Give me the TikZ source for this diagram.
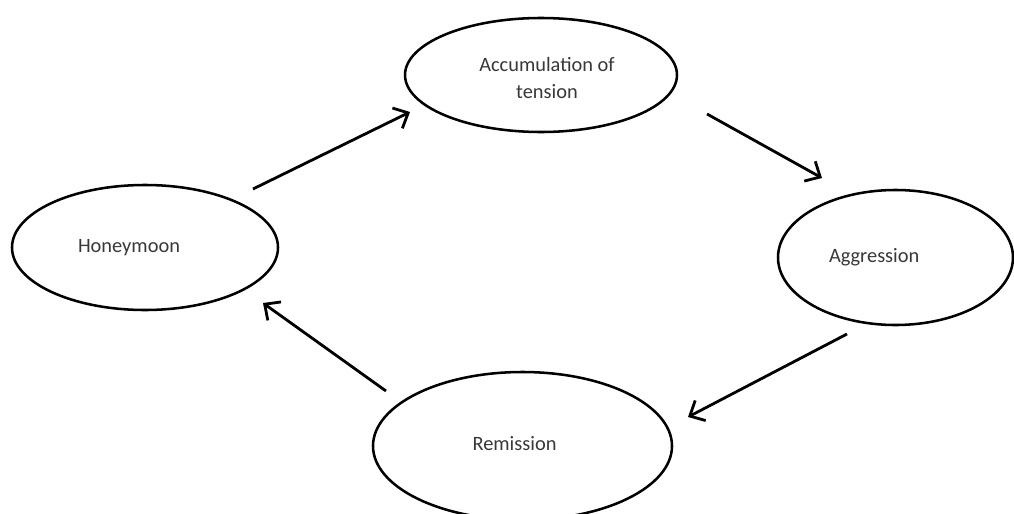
\documentclass[tikz,border=0pt]{standalone}
\usepackage{fontspec}
\setmainfont{Carlito}
\usetikzlibrary{shapes.geometric,arrows.meta,calc}
\definecolor{txt}{HTML}{383838}
\begin{document}
\begin{tikzpicture}[x=0.75pt,y=-0.75pt,
  stage/.style={ellipse,draw=black,line width=1.9pt,inner sep=0pt,fill=white},
  lbl/.style={font=\fontsize{15.3pt}{20.25pt}\selectfont,text=txt,align=center,inner sep=0pt},
  flow/.style={line width=2.1pt,-{Straight Barb[length=9pt,width=17pt,line width=2.1pt]}}]
\useasboundingbox[fill=white] (0,0) rectangle (1014,514);
\begin{scope}
\clip (0,0) rectangle (1014,514);
\node[stage,minimum width=199.5pt,minimum height=93.75pt,
  label={[lbl,xshift=-12pt]center:Honeymoon}] (hon) at (145,247.5) {};
\node[stage,minimum width=204pt,minimum height=85.5pt,
  label={[lbl,xshift=4.5pt,yshift=-2.6pt]center:Accumulation of\\tension}] (acc) at (541,75) {};
\node[stage,minimum width=176.25pt,minimum height=101.25pt,
  label={[lbl,xshift=-16pt]center:Aggression}] (agg) at (895.5,257.5) {};
\node[stage,minimum width=224.25pt,minimum height=111pt,
  label={[lbl,xshift=-6pt,yshift=2.2pt]center:Remission}] (rem) at (522.5,446) {};
\draw[flow] ($(hon)+(108,-58.5)$) -- ($(acc)+(-131,37)$);
\draw[flow] ($(acc)+(166,39)$) -- ($(agg)+(-73.5,-79.5)$);
\draw[flow] ($(agg)+(-48.5,76.5)$) -- ($(rem)+(165.5,-29)$);
\draw[flow] ($(rem)+(-136.5,-55)$) -- ($(hon)+(118,55.5)$);
\end{scope}
\end{tikzpicture}
\end{document}
